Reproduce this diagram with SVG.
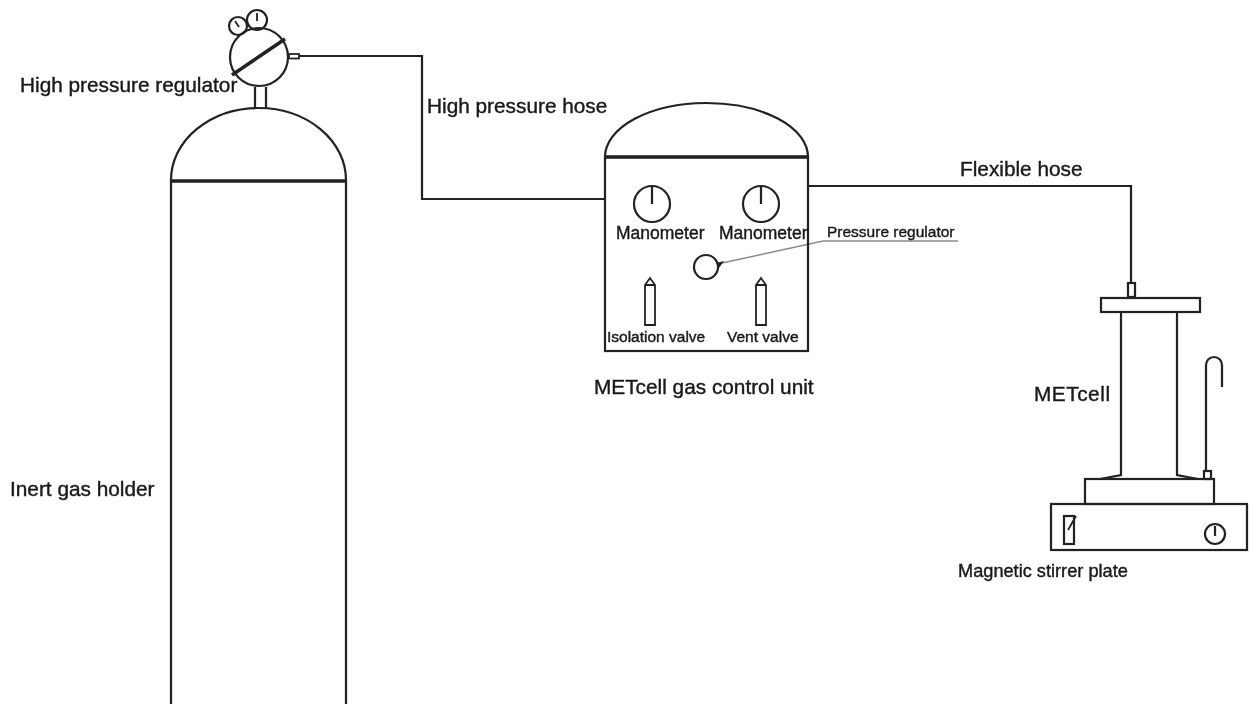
<svg xmlns="http://www.w3.org/2000/svg" width="1249" height="704" viewBox="0 0 1249 704">
<style>
.l{fill:none;stroke:#222;stroke-width:2.2}
.t{stroke-width:1.8}
.h{stroke-width:3.6}
.g{fill:none;stroke:#8a8a8a;stroke-width:1.4}
text{font-family:"Liberation Sans",Arial,sans-serif;fill:#1a1a1a;stroke:#1a1a1a;stroke-width:.4}
.a{font-size:20.8px}
.b{font-size:17.5px}
.c{font-size:15.5px}
.d{font-size:18.2px}
</style>
<defs><filter id="soft" filterUnits="userSpaceOnUse" x="0" y="0" width="1249" height="704"><feGaussianBlur stdDeviation="0.55"/></filter></defs>
<rect width="1249" height="704" fill="#fff"/>
<g filter="url(#soft)">
<g id="connectors">
<path class="l" d="M299 56H422V199H604"/>
<path class="l" d="M808 186H1131V283"/>
<path class="g" d="M722 263L823 241H958"/>
</g>
<g id="gas-holder">
<path class="l" d="M171 704V180A87.500 72 0 0 1 346 180V704"/>
<path class="l h" d="M171 181H346"/>
<text class="a" x="10" y="496">Inert gas holder</text>
</g>
<g id="high-pressure-regulator">
<path class="l" d="M255 108V87M266 108V87"/>
<circle class="l" cx="259" cy="57" r="29"/>
<circle class="l" cx="238" cy="26" r="9"/>
<circle class="l" cx="257" cy="20" r="10"/>
<path class="l t" d="M235 21L239 27M257 13V21"/>
<path class="l h" d="M232 75L285 39"/>
<rect class="l t" x="289" y="54" width="10" height="4.500"/>
<text class="a" x="20" y="92">High pressure regulator</text>
</g>
<g id="high-pressure-hose-label"><text class="a" x="427" y="113">High pressure hose</text></g>
<g id="gas-control-unit">
<path class="l" d="M605 157A101.500 54 0 0 1 808 157"/>
<rect class="l" x="605" y="157" width="203" height="194"/>
<path class="l h" d="M605 157H808"/>
<circle class="l" cx="652" cy="204" r="18"/>
<circle class="l" cx="761" cy="204" r="18"/>
<path class="l" d="M652 187V204M761 187V204"/>
<text class="b" x="616" y="239">Manometer</text>
<text class="b" x="719" y="239">Manometer</text>
<circle class="l" cx="706" cy="267" r="12"/>
<path d="M724 261L716 263L719 268Z" fill="#222"/>
<text class="c" x="827" y="237">Pressure regulator</text>
<path class="l t" d="M645 325V285L650 278L655 285V325ZM645 285H655"/>
<path class="l t" d="M756 325V285L761 278L766 285V325ZM756 285H766"/>
<text class="c" x="607" y="342">Isolation valve</text>
<text class="c" x="727" y="342">Vent valve</text>
<text class="a" x="594" y="394">METcell gas control unit</text>
</g>
<g id="flexible-hose-label"><text class="a" x="960" y="176">Flexible hose</text></g>
<g id="metcell">
<rect class="l" x="1128" y="283" width="7" height="14"/>
<rect class="l" x="1101" y="298" width="99" height="14"/>
<path class="l" d="M1121 312V475L1100 479M1177 312V475L1198 479"/>
<path class="l" d="M1206 470V365A8 8 0 0 1 1222 365V387"/>
<rect class="l" x="1204" y="471" width="7" height="8"/>
<text class="a" x="1034" y="401" textLength="76">METcell</text>
</g>
<g id="magnetic-stirrer-plate">
<rect class="l" x="1085" y="479" width="129" height="25"/>
<rect class="l" x="1051" y="504" width="196" height="46"/>
<rect class="l" x="1064" y="516" width="10" height="28"/>
<path class="l t" d="M1068 530L1076 516"/>
<circle class="l" cx="1215" cy="534" r="10"/>
<path class="l" d="M1215 526V536"/>
<text class="d" x="958" y="577">Magnetic stirrer plate</text>
</g>
</g>
</svg>
